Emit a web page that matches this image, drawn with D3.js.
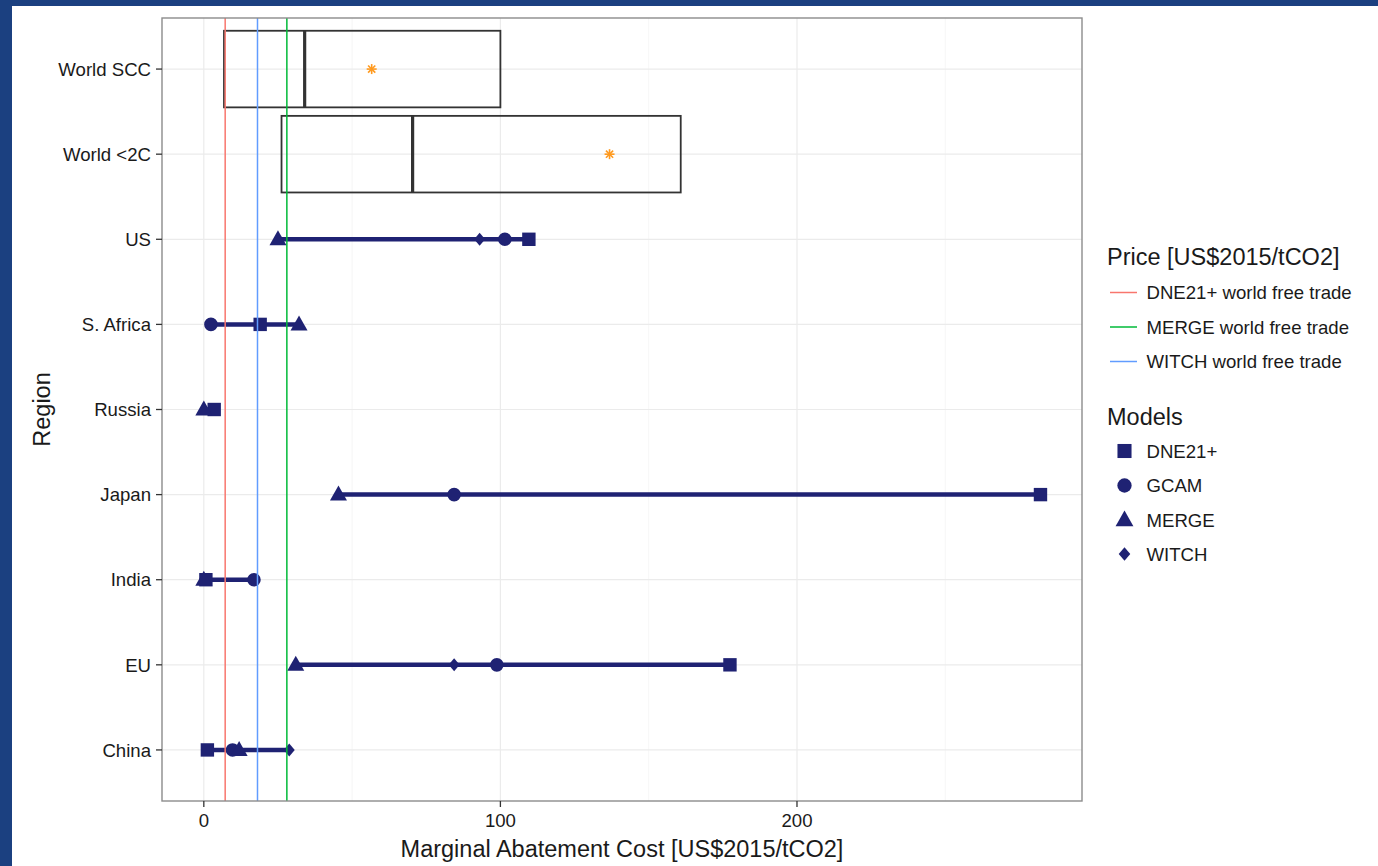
<!DOCTYPE html>
<html>
<head>
<meta charset="utf-8">
<script src="https://cdn.jsdelivr.net/npm/d3@7"></script>
<style>
html,body{margin:0;padding:0;background:#1b4080;}
svg{display:block;}
text{font-family:"Liberation Sans",Arial,Helvetica,sans-serif;fill:#1a1a1a;}
</style>
</head>
<body>
<svg id="chart" width="1378" height="866"></svg>
<script>
// ---- data ----
const regions = ["World SCC","World <2C","US","S. Africa","Russia","Japan","India","EU","China"];
const models = ["DNE21+","GCAM","MERGE","WITCH"];
// values per region in model order [DNE21+, GCAM, MERGE, WITCH]; null = not shown
const regionNames = ["US","S. Africa","Russia","Japan","India","EU","China"];
const dne21 = [109.6, 19.0, 3.5, 282.1, 0.7, 177.4, 1.2];
const gcam  = [101.5, 2.4, null, 84.4, 16.9, 98.8, 9.7];
const merge = [25.0, 32.1, 0.0, 45.4, 0.0, 31.0, 11.9];
const witch = [93.0, null, null, null, null, 84.4, 28.8];
// world boxes
const boxRegions = ["World SCC","World <2C"];
const boxLow    = [6.8, 26.2];
const boxMedian = [34.0, 70.4];
const boxHigh   = [100.0, 160.8];
const boxMean   = [56.6, 136.8];
// world free trade prices
const priceLabels = ["DNE21+ world free trade","MERGE world free trade","WITCH world free trade"];
const priceValues = [7.2, 28.0, 18.1];
const priceColors = ["#F8766D","#00BA38","#619CFF"];
const xTicks = [0,100,200];

// ---- layout ----
const svg = d3.select("#chart");
svg.append("rect").attr("x",12).attr("y",6).attr("width",1366).attr("height",860).attr("fill","#ffffff");

const P = {left:162, top:18, right:1082, bottom:801};
const x = d3.scaleLinear().domain([-14.1, 296.1]).range([P.left, P.right]);
const yBand = d3.scalePoint().domain(regions).range([P.top, P.bottom]).padding(0.6);
const step = yBand.step();

const navy = "#1f2273";

// grid
const g = svg.append("g");
const minor = [50,150,250];
g.selectAll(".minor").data(minor).enter().append("line")
  .attr("x1",d=>x(d)).attr("x2",d=>x(d)).attr("y1",P.top).attr("y2",P.bottom)
  .attr("stroke","#f4f4f4").attr("stroke-width",0.8);
g.selectAll(".major").data(xTicks).enter().append("line")
  .attr("x1",d=>x(d)).attr("x2",d=>x(d)).attr("y1",P.top).attr("y2",P.bottom)
  .attr("stroke","#ebebeb").attr("stroke-width",1.2);
g.selectAll(".hmajor").data(regions).enter().append("line")
  .attr("x1",P.left).attr("x2",P.right).attr("y1",d=>yBand(d)).attr("y2",d=>yBand(d))
  .attr("stroke","#ebebeb").attr("stroke-width",1.2);

// boxes
const boxes = boxRegions.map((r,i)=>({r, lo:boxLow[i], med:boxMedian[i], hi:boxHigh[i], mean:boxMean[i]}));
const bh = step*0.9;
boxes.forEach(b=>{
  const cy = yBand(b.r);
  svg.append("rect").attr("x",x(b.lo)).attr("y",cy-bh/2).attr("width",x(b.hi)-x(b.lo)).attr("height",bh)
    .attr("fill","none").attr("stroke","#333333").attr("stroke-width",1.8);
  svg.append("line").attr("x1",x(b.med)).attr("x2",x(b.med)).attr("y1",cy-bh/2).attr("y2",cy+bh/2)
    .attr("stroke","#333333").attr("stroke-width",3.2);
  // asterisk at mean
  const sx = x(b.mean), r = 5;
  const ag = svg.append("g").attr("transform",`translate(${sx},${cy})`);
  [[0,-r,0,r],[-r,0,r,0],[-r*0.72,-r*0.72,r*0.72,r*0.72],[-r*0.72,r*0.72,r*0.72,-r*0.72]].forEach(s=>{
    ag.append("line").attr("x1",s[0]).attr("y1",s[1]).attr("x2",s[2]).attr("y2",s[3])
      .attr("stroke","#FF9A1F").attr("stroke-width",1.6);
  });
});

// ranges and points
const series = [dne21, gcam, merge, witch];
const rows = regionNames.map((r,i)=>({r, vals: series.map((s,k)=>({m:models[k], v:s[i]})).filter(d=>d.v!==null)}));

function shapePath(m, s){
  if(m==="DNE21+"){const h=6.7*s;return `M${-h},${-h}H${h}V${h}H${-h}Z`;}
  if(m==="GCAM"){const r=6.8*s;return `M${r},0A${r},${r} 0 1,1 ${-r},0A${r},${r} 0 1,1 ${r},0Z`;}
  if(m==="MERGE"){return `M0,${-9*s}L${8.5*s},${6*s}L${-8.5*s},${6*s}Z`;}
  return `M0,${-6.5*s}L${5.5*s},0L0,${6.5*s}L${-5.5*s},0Z`;
}

rows.forEach(row=>{
  const cy = yBand(row.r);
  const ext = d3.extent(row.vals, d=>d.v);
  svg.append("line").attr("x1",x(ext[0])).attr("x2",x(ext[1])).attr("y1",cy).attr("y2",cy)
    .attr("stroke",navy).attr("stroke-width",4.5);
  row.vals.forEach(d=>{
    svg.append("path").attr("d",shapePath(d.m,1)).attr("transform",`translate(${x(d.v)},${cy})`).attr("fill",navy);
  });
});

// price vlines
priceValues.forEach((v,i)=>{
  svg.append("line").attr("x1",x(v)).attr("x2",x(v)).attr("y1",P.top).attr("y2",P.bottom)
    .attr("stroke",priceColors[i]).attr("stroke-width",1.5);
});

// panel border
svg.append("rect").attr("x",P.left).attr("y",P.top).attr("width",P.right-P.left).attr("height",P.bottom-P.top)
  .attr("fill","none").attr("stroke","#8c8c8c").attr("stroke-width",1.4);

// axes
const fs = 18.6;
const xa = svg.append("g");
xTicks.forEach(t=>{
  xa.append("line").attr("x1",x(t)).attr("x2",x(t)).attr("y1",P.bottom).attr("y2",P.bottom+6).attr("stroke","#333").attr("stroke-width",1.3);
  xa.append("text").attr("x",x(t)).attr("y",826.5).attr("text-anchor","middle").attr("font-size",fs).attr("fill","#1a1a1a").text(t);
});
const ya = svg.append("g");
regions.forEach(r=>{
  const cy = yBand(r);
  ya.append("line").attr("x1",P.left-6).attr("x2",P.left).attr("y1",cy).attr("y2",cy).attr("stroke","#333").attr("stroke-width",1.3);
  ya.append("text").attr("x",P.left-11).attr("y",cy).attr("dy","0.36em").attr("text-anchor","end").attr("font-size",fs).text(r);
});
svg.append("text").attr("x",(P.left+P.right)/2).attr("y",857).attr("text-anchor","middle").attr("font-size",23.5)
  .text("Marginal Abatement Cost [US$2015/tCO2]");
svg.append("text").attr("transform",`translate(50,${(P.top+P.bottom)/2}) rotate(-90)`).attr("text-anchor","middle").attr("font-size",23.5)
  .text("Region");

// legends
const L = svg.append("g");
L.append("text").attr("x",1107).attr("y",265).attr("font-size",23.5).text("Price [US$2015/tCO2]");
const legOrder = [0,1,2];
const lineY = [292.5, 327, 361.5];
legOrder.forEach((k,i)=>{
  L.append("line").attr("x1",1110).attr("x2",1137).attr("y1",lineY[i]).attr("y2",lineY[i]).attr("stroke",priceColors[k]).attr("stroke-width",1.5);
  L.append("text").attr("x",1146.5).attr("y",lineY[i]).attr("dy","0.36em").attr("font-size",fs).text(priceLabels[k]);
});
L.append("text").attr("x",1107).attr("y",425).attr("font-size",23.5).text("Models");
const symY = [451, 485.5, 520, 554];
models.forEach((m,i)=>{
  L.append("path").attr("d",shapePath(m,1.05)).attr("transform",`translate(1124.5,${symY[i]})`).attr("fill",navy);
  L.append("text").attr("x",1146.5).attr("y",symY[i]).attr("dy","0.36em").attr("font-size",fs).text(m);
});
</script>
</body>
</html>
